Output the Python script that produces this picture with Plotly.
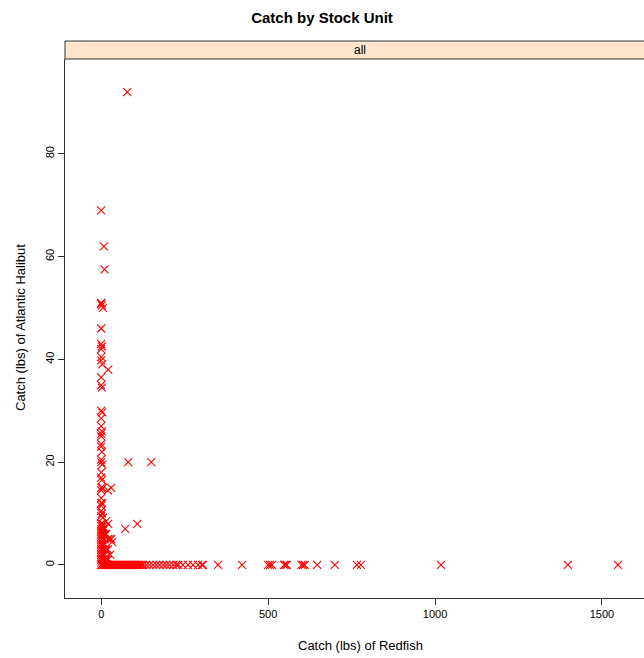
import plotly.graph_objects as go

# Catch (lbs) of Redfish (x) and Atlantic Halibut (y)
redfish = [
    78, 0, 8, 10, 0, 2, 5, 0, 0, 0, 2, 0, 0, 0, 3, 21, 0, 0, 2,
    0, 3, 0, 0, 2, 0, 0, 0, 0, 2, 0, 0, 3, 0, 0, 2, 0, 5, 30, 20, 0, 0, 3, 0, 0, 0, 2, 0,
    5, 15, 21, 0, 5, 81, 150, 72, 108, 33, 27, 20, 15, 25, 10, 12, 8, 30,
    0, 0, 0, 0, 0, 0, 0, 0, 0, 0, 0, 0, 0, 0, 0, 0,
    5, 5, 5, 5, 5, 5, 5, 5, 10, 10, 10, 10, 10, 10, 15, 15, 15, 20, 20,
    0, 3, 6, 9, 12, 15, 18, 21, 24, 27, 30, 34, 38, 42, 46, 50, 54, 58, 62, 66,
    70, 74, 78, 82, 86, 90, 94, 98, 102, 106, 110, 114, 118, 122,
    126, 135, 145, 155, 165, 175, 186, 195, 205, 216, 225, 231, 245, 260, 275,
    290, 302, 305, 350, 422, 500, 506, 512, 548, 552, 556, 600, 605, 610, 647,
    700, 766, 778, 1018, 1398, 1548,
]
halibut = [
    92, 69, 62, 57.5, 51, 50.5, 50, 50.8, 46, 43, 42.5, 42, 40.5, 39.8, 39, 38, 36.5, 35, 34.5,
    30, 29.7, 28.5, 27, 26, 25.5, 25, 23.5, 23, 22, 20.5, 20, 19.5, 18, 17, 16.5, 15, 15, 15, 14.5, 14.5, 13, 12, 12, 11.5, 10.5, 10, 9.5,
    9.2, 8.5, 8, 8, 7.5, 20, 20, 7, 8, 4.5, 2, 3, 1.5, 5, 3, 6, 4, 5,
    8, 7.5, 7, 6.5, 6, 5.5, 5, 4.5, 4, 3.5, 3, 2.5, 2, 1.5, 1, 0.5,
    8, 7, 6, 5, 4, 3, 2, 1, 7, 6, 5, 4, 2, 1, 6, 3, 1, 5, 1,
    0, 0, 0, 0, 0, 0, 0, 0, 0, 0, 0, 0, 0, 0, 0, 0, 0, 0, 0, 0,
    0, 0, 0, 0, 0, 0, 0, 0, 0, 0, 0, 0, 0, 0,
    0, 0, 0, 0, 0, 0, 0, 0, 0, 0, 0, 0, 0, 0, 0,
    0, 0, 0, 0, 0, 0, 0, 0, 0, 0, 0, 0, 0, 0, 0,
    0, 0, 0, 0, 0, 0,
]

x_ticks = [0, 500, 1000, 1500]
y_ticks = [0, 20, 40, 60, 80]
title = "Catch by Stock Unit"
strip_label = "all"
x_title = "Catch (lbs) of Redfish"
y_title = "Catch (lbs) of Atlantic Halibut"

W, H = 644, 658
ML, MR, MT, MB = 65, 0, 59, 60
plot_h = H - MT - MB
strip_h = 18

fig = go.Figure()
fig.add_trace(go.Scatter(
    x=redfish, y=halibut, mode="markers",
    marker=dict(symbol="x-thin-open", size=8, color="#ff0000",
                line=dict(color="#ff0000", width=1.1)),
    showlegend=False, hoverinfo="x+y",
))

font = "Liberation Sans, Arial, sans-serif"
fig.update_layout(
    width=W, height=H,
    margin=dict(l=ML, r=MR, t=MT, b=MB, pad=0),
    paper_bgcolor="white", plot_bgcolor="white",
    font=dict(family=font, color="black", size=11),
    title=dict(text="<b>" + title + "</b>", x=0.5, xanchor="center",
               y=1 - 18 / H, yanchor="middle", font=dict(size=15, family=font)),
    xaxis=dict(range=[-108.5, 1626], tickvals=x_ticks, ticktext=[str(v) for v in x_ticks],
               showgrid=False, zeroline=False, showline=True, linecolor="#333333", linewidth=1,
               ticks="outside", ticklen=6, tickcolor="#333333", tickfont=dict(size=11)),
    yaxis=dict(range=[-6.44, 98.44], tickvals=y_ticks, ticktext=[str(v) for v in y_ticks],
               showgrid=False, zeroline=False, showline=True, linecolor="#333333", linewidth=1,
               ticks="outside", ticklen=6, tickcolor="#333333", tickangle=-90,
               tickfont=dict(size=11)),
)

# strip
fig.add_shape(type="rect", xref="paper", yref="paper",
              x0=0, x1=1.05, y0=1, y1=1 + strip_h / plot_h,
              fillcolor="#ffe5cc", line=dict(color="#333333", width=1), layer="above")
fig.add_annotation(text=strip_label, xref="paper", yref="paper",
                   x=(360 - ML) / (W - ML), y=1 + strip_h / 2 / plot_h,
                   showarrow=False, font=dict(size=12, family=font), xanchor="center", yanchor="middle")

# axis titles
fig.add_annotation(text=x_title, xref="paper", yref="paper",
                   x=(360 - ML) / (W - ML), y=-(645 - (H - MB)) / plot_h,
                   showarrow=False, font=dict(size=13, family=font), xanchor="center", yanchor="middle")
fig.add_annotation(text=y_title, xref="paper", yref="paper",
                   x=-(ML - 20) / (W - ML), y=(H - MB - 328) / plot_h, textangle=-90,
                   showarrow=False, font=dict(size=13, family=font), xanchor="center", yanchor="middle")

fig.write_html("out.html", config={"displayModeBar": False},
               post_script="document.body.style.margin='0';document.body.style.overflow='hidden';")
